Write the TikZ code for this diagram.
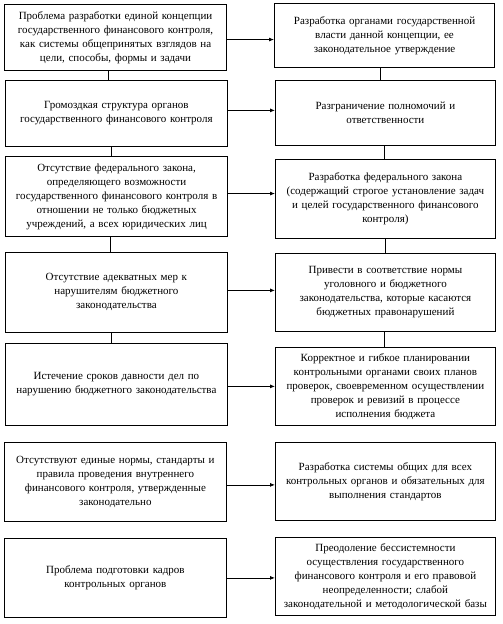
\documentclass[tikz,border=0pt]{standalone}
\usepackage{fontspec}
\setmainfont{Liberation Serif}
\usepackage{tikz}
\usetikzlibrary{positioning, arrows.meta, calc}

\begin{document}
\begin{tikzpicture}[
        x=1pt, y=-1pt,
        >=Latex,
        box_style/.style={draw, line width=0.8pt, inner xsep=4pt, inner ysep=2pt,
            align=center, anchor=north west, font=\fontsize{11}{14}\selectfont},
        left_box/.style={box_style, text width=214pt},
        right_box/.style={box_style, text width=212pt},
        link_style/.style={line width=0.8pt},
        arrow_style/.style={-{Latex[length=5pt, width=4pt]}, line width=0.8pt}
    ]
    \useasboundingbox (0,0) rectangle (503,624);

    % =========================================================================
    % 1. PROBLEMS (Left column)
    % =========================================================================
    \node[left_box, minimum height=66pt, line width=1.1pt] (L1) at (4,4)
        {Проблема разработки единой концепции\\ государственного финансового контроля,\\
         как системы общепринятых взглядов на\\ цели, способы, формы и задачи};
    \node[left_box, minimum height=66pt] (L2) at (5,80)
        {Громоздкая структура органов\\ государственного финансового контроля};
    \node[left_box, minimum height=80pt, line width=1.1pt] (L3) at (5,156)
        {Отсутствие федерального закона,\\ определяющего возможности\\
         государственного финансового контроля в\\ отношении не только бюджетных\\
         учреждений, а всех юридических лиц};
    \node[left_box, minimum height=80pt] (L4) at (5,252)
        {Отсутствие адекватных мер к\\ нарушителям бюджетного\\ законодательства};
    \node[left_box, minimum height=82pt] (L5) at (5,343)
        {Истечение сроков давности дел по\\ нарушению бюджетного законодательства};
    \node[left_box, minimum height=79pt] (L6) at (4,442)
        {Отсутствуют единые нормы, стандарты и\\ правила проведения внутреннего\\
         финансового контроля, утвержденные\\ законодательно};
    \node[left_box, minimum height=79pt] (L7) at (4,538)
        {Проблема подготовки кадров\\ контрольных органов};

    % =========================================================================
    % 2. SOLUTIONS (Right column)
    % =========================================================================
    \node[right_box, minimum height=64pt, line width=1.1pt] (R1) at (274,3)
        {Разработка органами государственной\\ власти данной концепции, ее\\
         законодательное утверждение};
    \node[right_box, minimum height=65pt] (R2) at (275,80)
        {Разграничение полномочий и\\ ответственности};
    \node[right_box, minimum height=79pt] (R3) at (275,159)
        {Разработка федерального закона\\ (содержащий строгое установление задач\\
         и целей государственного финансового\\ контроля)};
    \node[right_box, minimum height=78pt] (R4) at (275,253)
        {Привести в соответствие нормы\\ уголовного и бюджетного\\
         законодательства, которые касаются\\ бюджетных правонарушений};
    \node[right_box, minimum height=78pt] (R5) at (275,347)
        {Корректное и гибкое планировании\\ контрольными органами своих планов\\
         проверок, своевременном осуществлении\\ проверок и ревизий в процессе\\
         исполнения бюджета};
    \node[right_box, minimum height=78pt] (R6) at (275,442)
        {Разработка системы общих для всех\\ контрольных органов и обязательных для\\
         выполнения стандартов};
    \node[right_box, minimum height=78pt] (R7) at (275,537)
        {Преодоление бессистемности\\ осуществления государственного\\
         финансового контроля и его правовой\\ неопределенности; слабой\\
         законодательной и методологической базы};

    % =========================================================================
    % 3. VERTICAL LINKS
    % =========================================================================
    \draw[link_style] ([xshift=-7pt]L1.south) -- ([xshift=-7pt]L1.south |- L2.north);
    \draw[link_style] ([xshift=-5pt]L2.south) -- ([xshift=-5pt]L2.south |- L3.north);
    \draw[link_style] ([xshift=-6pt]L3.south) -- ([xshift=-6pt]L3.south |- L4.north);
    \draw[link_style] ([xshift=-5pt]L4.south) -- ([xshift=-5pt]L4.south |- L5.north);

    \draw[link_style] ([xshift=-4pt]R1.south) -- ([xshift=-4pt]R1.south |- R2.north);
    \draw[link_style] ([xshift=-1pt]R2.south) -- ([xshift=-1pt]R2.south |- R3.north);
    \draw[link_style] (R3.south) -- (R3.south |- R4.north);
    \draw[link_style] ([xshift=-1pt]R4.south) -- ([xshift=-1pt]R4.south |- R5.north);

    % =========================================================================
    % 4. PROBLEM -> SOLUTION ARROWS
    % =========================================================================
    \draw[arrow_style] ([yshift=-2pt]L1.east) -- ([yshift=-2pt]L1.east -| R1.west);
    \draw[arrow_style] ([yshift=3pt]L2.east) -- ([yshift=3pt]L2.east -| R2.west);
    \draw[arrow_style] ([yshift=3pt]L3.east) -- ([yshift=3pt]L3.east -| R3.west);
    \draw[arrow_style] ([yshift=2pt]L4.east) -- ([yshift=2pt]L4.east -| R4.west);
    \draw[arrow_style] ([yshift=-2pt]L5.east) -- ([yshift=-2pt]L5.east -| R5.west);
    \draw[arrow_style] ([yshift=-3pt]L6.east) -- ([yshift=-3pt]L6.east -| R6.west);
    \draw[arrow_style] (L7.east) -- (L7.east -| R7.west);

\end{tikzpicture}
\end{document}
